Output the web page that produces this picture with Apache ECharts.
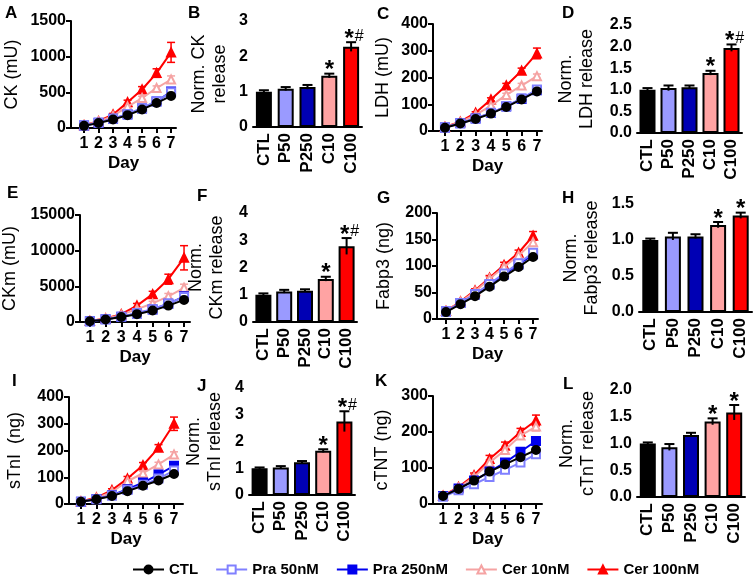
<!DOCTYPE html>
<html>
<head>
<meta charset="utf-8">
<script src="https://cdn.jsdelivr.net/npm/echarts@6.0.0/dist/echarts.min.js"></script>
<style>
html, body { margin: 0; padding: 0; background: #fff; }
#main { width: 755px; height: 579px; }
</style>
</head>
<body>
<div id="main"></div>
<script>
// 数据 —— 每行依次为 CTL, Pra 50nM, Pra 250nM, Cer 10nM, Cer 100nM
var days = [1, 2, 3, 4, 5, 6, 7];
var groups = ['CTL', 'P50', 'P250', 'C10', 'C100'];
var legendNames = ['CTL', 'Pra 50nM', 'Pra 250nM', 'Cer 10nM', 'Cer 100nM'];

var ckMean = [
    [30, 70, 120, 180, 260, 350, 450],
    [35, 75, 130, 195, 280, 380, 500],
    [35, 75, 130, 190, 275, 370, 510],
    [40, 90, 170, 300, 420, 560, 680],
    [40, 95, 190, 360, 540, 770, 1060]
];
var ckErr = [
    [5, 5, 8, 10, 12, 15, 20],
    [5, 5, 8, 10, 15, 20, 25],
    [5, 5, 8, 10, 15, 20, 30],
    [5, 8, 10, 20, 25, 30, 50],
    [5, 10, 15, 30, 40, 60, 140]
];
var ldhMean = [
    [12, 28, 45, 65, 90, 118, 148],
    [13, 29, 47, 68, 93, 122, 155],
    [13, 29, 47, 67, 92, 120, 152],
    [14, 33, 60, 95, 135, 170, 205],
    [15, 35, 68, 118, 170, 225, 290]
];
var ldhErr = [
    [2, 2, 3, 3, 4, 5, 6],
    [2, 2, 3, 3, 4, 5, 6],
    [2, 2, 3, 3, 4, 5, 6],
    [2, 3, 4, 5, 6, 8, 8],
    [2, 3, 4, 6, 8, 10, 20]
];
var ckmMean = [
    [100, 350, 700, 1100, 1600, 2300, 3100],
    [120, 380, 750, 1250, 1800, 2600, 3500],
    [120, 380, 750, 1200, 1750, 2550, 3600],
    [130, 450, 1000, 1800, 2600, 3600, 4800],
    [130, 500, 1100, 2300, 3900, 6000, 9000]
];
var ckmErr = [
    [30, 50, 80, 100, 150, 200, 250],
    [30, 50, 80, 100, 150, 200, 300],
    [30, 50, 80, 100, 150, 200, 300],
    [30, 60, 100, 200, 300, 400, 500],
    [30, 80, 150, 300, 400, 700, 1700]
];
var fabpMean = [
    [13, 28, 43, 61, 80, 98, 117],
    [14, 30, 47, 66, 86, 105, 125],
    [14, 30, 46, 65, 84, 103, 122],
    [15, 32, 52, 76, 98, 120, 145],
    [15, 33, 54, 78, 102, 125, 157]
];
var fabpErr = [
    [1, 2, 2, 3, 3, 3, 4],
    [1, 2, 2, 3, 3, 4, 5],
    [1, 2, 2, 3, 3, 4, 5],
    [1, 2, 3, 4, 4, 5, 6],
    [1, 2, 3, 4, 5, 5, 8]
];
var tniMean = [
    [8, 18, 30, 48, 68, 88, 112],
    [8, 18, 32, 52, 72, 95, 125],
    [8, 19, 33, 55, 80, 110, 143],
    [8, 22, 45, 85, 115, 148, 185],
    [9, 24, 52, 95, 145, 210, 300]
];
var tniErr = [
    [1, 2, 3, 4, 5, 6, 7],
    [1, 2, 3, 4, 5, 6, 8],
    [1, 2, 3, 4, 5, 6, 8],
    [1, 2, 4, 6, 8, 8, 10],
    [1, 3, 5, 8, 10, 12, 25]
];
var tntMean = [
    [22, 42, 65, 90, 110, 130, 150],
    [20, 38, 55, 75, 95, 115, 138],
    [22, 43, 65, 90, 115, 145, 175],
    [22, 45, 75, 115, 150, 190, 215],
    [23, 47, 80, 125, 162, 200, 232]
];
var tntErr = [
    [2, 3, 4, 5, 6, 6, 7],
    [2, 3, 4, 5, 6, 6, 7],
    [2, 3, 4, 5, 6, 7, 8],
    [2, 4, 6, 8, 10, 10, 12],
    [2, 4, 6, 10, 10, 10, 15]
];

// 归一化释放量（柱状图）
var ckNorm = [1.0, 1.08, 1.13, 1.45, 2.27];
var ckNormErr = [0.04, 0.05, 0.06, 0.06, 0.13];
var ckSig = ['', '', '', '*', '*#'];
var ldhNorm = [1.0, 1.04, 1.06, 1.39, 1.97];
var ldhNormErr = [0.04, 0.06, 0.04, 0.05, 0.08];
var ldhSig = ['', '', '', '*', '*#'];
var ckmNorm = [1.0, 1.12, 1.15, 1.58, 2.78];
var ckmNormErr = [0.05, 0.06, 0.05, 0.08, 0.3];
var ckmSig = ['', '', '', '*', '*#'];
var fabpNorm = [1.0, 1.05, 1.05, 1.21, 1.34];
var fabpNormErr = [0.02, 0.05, 0.03, 0.04, 0.04];
var fabpSig = ['', '', '', '*', '*'];
var tniNorm = [1.0, 1.03, 1.22, 1.65, 2.75];
var tniNormErr = [0.03, 0.05, 0.05, 0.06, 0.38];
var tniSig = ['', '', '', '*', '*#'];
var tntNorm = [1.0, 0.93, 1.16, 1.41, 1.58];
var tntNormErr = [0.02, 0.06, 0.04, 0.06, 0.14];
var tntSig = ['', '', '', '*', '*'];

var lineColors = ['#000000', '#8080ff', '#0000ee', '#f5a3a3', '#ff0000'];
var lineSymbols = ['circle', 'emptyRect', 'rect', 'emptyTriangle', 'triangle'];
var barColors = ['#000000', '#9a9aff', '#0000b4', '#ffa3a3', '#ff0000'];
var FONT = 'Liberation Sans';

var myChart = echarts.init(document.getElementById('main'));

var grids = [], xAxes = [], yAxes = [], series = [];

function axisBase() {
    return {
        axisLine: { lineStyle: { color: '#000', width: 2 } },
        axisTick: { length: 5, lineStyle: { color: '#000', width: 2 } },
        splitLine: { show: false }
    };
}

// 折线面板
function addLinePanel(box, xr, yMax, yInt, yName, gap, means, errs) {
    var k = grids.length;
    grids.push({ left: box[0], top: box[1], width: box[2], height: box[3] });
    var xa = axisBase();
    xa.type = 'value';
    xa.gridIndex = k;
    xa.min = xr[0];
    xa.max = xr[1];
    xa.axisTick.customValues = days;
    xa.axisLabel = { customValues: days, color: '#000', fontFamily: FONT, fontWeight: 'bold', fontSize: 16, margin: 8 };
    xa.name = 'Day';
    xa.nameLocation = 'middle';
    xa.nameGap = 27;
    xa.nameTextStyle = { color: '#000', fontFamily: FONT, fontWeight: 'bold', fontSize: 17 };
    xAxes.push(xa);
    var ya = axisBase();
    ya.type = 'value';
    ya.gridIndex = k;
    ya.min = 0;
    ya.max = yMax;
    ya.interval = yInt;
    ya.axisLabel = {
        color: '#000', fontFamily: FONT, fontWeight: 'bold', fontSize: 16, margin: 5,
        formatter: function (v) { return String(v); }
    };
    ya.name = yName;
    ya.nameLocation = 'middle';
    ya.nameGap = gap;
    ya.nameTextStyle = { color: '#000', fontFamily: FONT, fontSize: 18 };
    yAxes.push(ya);

    // 误差线
    var errData = [];
    for (var g = 0; g < 5; g++) {
        for (var d = 0; d < days.length; d++) {
            errData.push([days[d], means[g][d], errs[g][d], g]);
        }
    }
    series.push({
        type: 'custom',
        xAxisIndex: k,
        yAxisIndex: k,
        z: 1,
        silent: true,
        encode: { x: 0, y: 1 },
        data: errData,
        renderItem: function (params, api) {
            var x = api.value(0), m = api.value(1), e = api.value(2), g = api.value(3);
            var t = api.coord([x, m + e]), b = api.coord([x, m - e]);
            var st = { stroke: lineColors[g], lineWidth: 1.5 };
            return {
                type: 'group',
                children: [
                    { type: 'line', shape: { x1: t[0], y1: t[1], x2: b[0], y2: b[1] }, style: st },
                    { type: 'line', shape: { x1: t[0] - 4, y1: t[1], x2: t[0] + 4, y2: t[1] }, style: st },
                    { type: 'line', shape: { x1: b[0] - 4, y1: b[1], x2: b[0] + 4, y2: b[1] }, style: st }
                ]
            };
        }
    });
    var order = [4, 3, 2, 1, 0];
    order.forEach(function (g) {
        series.push({
            name: legendNames[g],
            type: 'line',
            xAxisIndex: k,
            yAxisIndex: k,
            z: 2 + (4 - g) * 0.1,
            data: days.map(function (d, i) { return [d, means[g][i]]; }),
            symbol: lineSymbols[g],
            symbolSize: 8,
            showAllSymbol: true,
            lineStyle: { color: lineColors[g], width: 2 },
            itemStyle: { color: lineColors[g], borderColor: lineColors[g], borderWidth: 2 }
        });
    });
}

// 柱状面板
function addBarPanel(box, yMax, yInt, dec, yName, gap, vals, errs, sig) {
    var k = grids.length;
    grids.push({ left: box[0], top: box[1], width: box[2], height: box[3] });
    var xa = axisBase();
    xa.type = 'category';
    xa.gridIndex = k;
    xa.data = groups;
    xa.axisTick.alignWithLabel = true;
    xa.axisLabel = { rotate: 90, interval: 0, color: '#000', fontFamily: FONT, fontWeight: 'bold', fontSize: 17, margin: 6 };
    xAxes.push(xa);
    var ya = axisBase();
    ya.type = 'value';
    ya.gridIndex = k;
    ya.min = 0;
    ya.max = yMax;
    ya.interval = yInt;
    ya.axisLabel = {
        color: '#000', fontFamily: FONT, fontWeight: 'bold', fontSize: 16, margin: 5,
        formatter: function (v) { return v.toFixed(dec); }
    };
    ya.name = yName;
    ya.nameLocation = 'middle';
    ya.nameGap = gap;
    ya.nameTextStyle = { color: '#000', fontFamily: FONT, fontSize: 18, lineHeight: 21 };
    yAxes.push(ya);

    series.push({
        type: 'bar',
        name: 'bar' + k,
        xAxisIndex: k,
        yAxisIndex: k,
        barWidth: 16,
        z: 2,
        data: vals.map(function (v, i) {
            return { value: v, itemStyle: { color: barColors[i], borderColor: '#000', borderWidth: 2 } };
        })
    });
    series.push({
        type: 'custom',
        xAxisIndex: k,
        yAxisIndex: k,
        z: 3,
        silent: true,
        encode: { x: 0, y: 1 },
        data: vals.map(function (v, i) { return [i, v, errs[i]]; }),
        renderItem: function (params, api) {
            var i = api.value(0), m = api.value(1), e = api.value(2);
            var t = api.coord([i, m + e]), b = api.coord([i, m - e]);
            var st = { stroke: '#000', lineWidth: 2 };
            var kids = [
                { type: 'line', shape: { x1: t[0], y1: t[1], x2: b[0], y2: b[1] }, style: st },
                { type: 'line', shape: { x1: t[0] - 5, y1: t[1], x2: t[0] + 5, y2: t[1] }, style: st }
            ];
            var s = sig[params.dataIndex];
            if (s) {
                var txt = '{s|*}' + (s.length > 1 ? '{h|#}' : '');
                kids.push({
                    type: 'text',
                    x: t[0] + (s.length > 1 ? 3 : 0),
                    y: t[1] + 9,
                    style: {
                        text: txt,
                        align: 'center',
                        verticalAlign: 'bottom',
                        rich: {
                            s: { fontSize: 24, fontWeight: 'bold', fontFamily: FONT, fill: '#000', verticalAlign: 'bottom' },
                            h: { fontSize: 16, fontFamily: FONT, fill: '#000', verticalAlign: 'bottom', padding: [0, 0, 7, 1] }
                        }
                    }
                });
            }
            return { type: 'group', children: kids };
        }
    });
}

addLinePanel([71, 21, 105, 107], [0.1, 7.34], 1500, 500, 'CK (mU)', 50, ckMean, ckErr);
addBarPanel([253, 21, 109, 106], 3, 1, 0, 'Norm. CK\nrelease', 22, ckNorm, ckNormErr, ckSig);
addLinePanel([433, 24, 109, 107], [0.22, 7.33], 400, 100, 'LDH (mU)', 41, ldhMean, ldhErr);
addBarPanel([637, 25, 105, 108], 2.5, 0.5, 1, 'Norm.\nLDH release', 39, ldhNorm, ldhNormErr, ldhSig);

addLinePanel([79, 215, 111, 107], [0.37, 7.38], 15000, 5000, 'CKm (mU)', 61, ckmMean, ckmErr);
addBarPanel([253, 213, 104, 109], 4, 1, 0, 'Norm.\nCKm release', 25, ckmNorm, ckmNormErr, ckmSig);
addLinePanel([437, 213, 101, 106], [0.38, 7.34], 200, 50, 'Fabp3 (ng)', 44, fabpMean, fabpErr);
addBarPanel([639, 204, 113, 108], 1.5, 0.5, 1, 'Norm.\nFabp3 release', 36, fabpNorm, fabpNormErr, fabpSig);

addLinePanel([69, 397, 114, 107], [0.23, 7.58], 400, 100, 'sTnI  (ng)', 45, tniMean, tniErr);
addBarPanel([249, 388, 106, 107], 4, 1, 0, 'Norm.\nsTnI release', 23, tniNorm, tniNormErr, tniSig);
addLinePanel([433, 396, 109, 108], [0.35, 7.39], 300, 100, 'cTNT (ng)', 42, tntMean, tntErr);
addBarPanel([637, 390, 108, 107], 2, 0.5, 1, 'Norm.\ncTnT release', 38, tntNorm, tntNormErr, tntSig);

// 面板字母
var letters = [
    ['A', 5, 5], ['B', 188, 5], ['C', 377, 6], ['D', 562, 5],
    ['E', 7, 185], ['F', 197, 188], ['G', 377, 190], ['H', 562, 190],
    ['I', 12, 373], ['J', 197, 378], ['K', 375, 373], ['L', 563, 376]
];

var option = {
    animation: false,
    backgroundColor: '#fff',
    grid: grids,
    xAxis: xAxes,
    yAxis: yAxes,
    series: series,
    legend: {
        data: legendNames,
        left: 127,
        top: 557,
        itemGap: 17,
        itemWidth: 31,
        itemHeight: 10,
        textStyle: { color: '#000', fontFamily: FONT, fontWeight: 'bold', fontSize: 15 }
    },
    graphic: letters.map(function (l) {
        return {
            type: 'text',
            left: l[1],
            top: l[2],
            style: { text: l[0], fontFamily: FONT, fontWeight: 'bold', fontSize: 17, fill: '#000' }
        };
    })
};

myChart.setOption(option);
</script>
</body>
</html>
